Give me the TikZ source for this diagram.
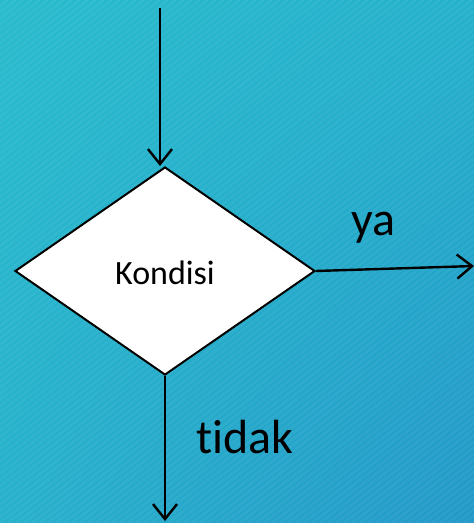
\documentclass[tikz,border=0pt]{standalone}
\usepackage{fontspec}
\setmainfont[Ligatures={NoCommon}]{Carlito}
\usetikzlibrary{shapes.geometric,arrows.meta,shadings}
\definecolor{bgTL}{HTML}{27BBCD}
\definecolor{bgTR}{HTML}{23B0CB}
\definecolor{bgBL}{HTML}{25B0CB}
\definecolor{bgBR}{HTML}{2198C8}
\tikzset{
  flow/.style={line width=2.4pt, -{Straight Barb[length=15pt,width=24pt,line width=2.4pt]}},
  lbl/.style={font=\fontsize{48}{52}\selectfont, inner sep=0pt},
}
\begin{document}
\begin{tikzpicture}[x=1pt,y=-1pt]
\useasboundingbox (0,0) rectangle (474,523);
\shade[upper left=bgTL, upper right=bgTR, lower left=bgBL, lower right=bgBR] (0,0) rectangle (474,523);
\begin{scope}
\clip (0,0) rectangle (474,523);
\foreach \i in {-720,-712,...,480}
  \draw[white, opacity=0.05, line width=3pt] (\i,523) -- (\i+523*1.3,0);
\end{scope}
\node[diamond, draw=black, line width=2pt, fill=white, minimum width=300pt, minimum height=208pt, inner sep=0pt] (k) at (165,271) {};
\node[font=\fontsize{34}{36}\selectfont] (kt) at (165,273) {Kondisi};
\coordinate (top) at (160,8);
\coordinate (kin) at (160,166);
\coordinate (rt) at (474,266);
\coordinate (bt) at (165,521);
\draw[flow] (top) -- (kin);
\draw[flow] (k.east) -- (rt);
\draw[flow] (k.south) -- (bt);
\node[lbl] (ya) at (373,228) {ya};
\node[lbl] (tidak) at (245,437) {tidak};
\end{tikzpicture}
\end{document}
